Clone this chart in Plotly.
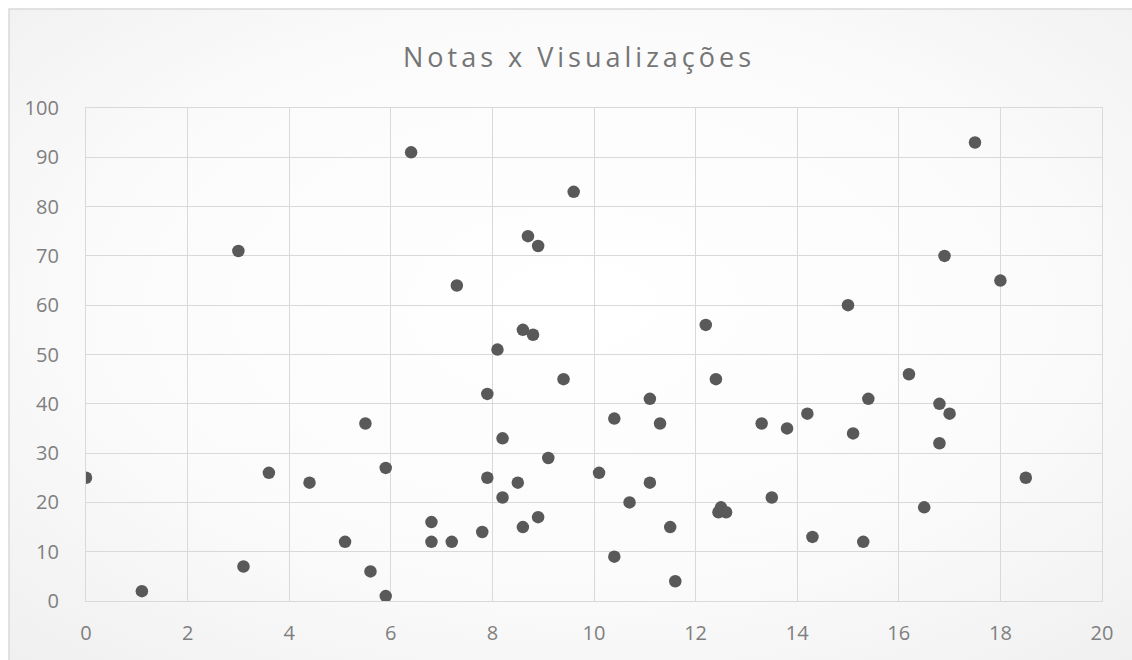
import base64
import plotly.graph_objects as go

# Notas (x) e visualizações (y)
notas = [0, 1.1, 3, 3.1, 3.6, 4.4, 5.1, 5.5, 5.6, 5.9, 5.9, 6.4, 6.8, 6.8, 7.2, 7.3,
         7.8, 7.9, 7.9, 8.1, 8.2, 8.2, 8.5, 8.6, 8.6, 8.7, 8.8, 8.9, 8.9, 9.1, 9.4,
         9.6, 10.1, 10.4, 10.4, 10.7, 11.1, 11.1, 11.3, 11.5, 11.6, 12.2, 12.4,
         12.5, 12.45, 12.6, 13.3, 13.5, 13.8, 14.2, 14.3, 15, 15.1, 15.3, 15.4,
         16.2, 16.5, 16.8, 16.8, 16.9, 17, 17.5, 18, 18.5]
visualizacoes = [25, 2, 71, 7, 26, 24, 12, 36, 6, 27, 1, 91, 16, 12, 12, 64,
                 14, 42, 25, 51, 33, 21, 24, 55, 15, 74, 54, 72, 17, 29, 45,
                 83, 26, 37, 9, 20, 41, 24, 36, 15, 4, 56, 45,
                 19, 18, 18, 36, 21, 35, 38, 13, 60, 34, 12, 41,
                 46, 19, 40, 32, 70, 38, 93, 65, 25]

x_ticks = list(range(0, 21, 2))
y_ticks = list(range(0, 101, 10))

W, H = 1132, 660
ML, MR, MT, MB = 86, 30, 108, 59
pw, ph = W - ML - MR, H - MT - MB


def px_to_paper_x(px):
    return (px - ML) / pw


def px_to_paper_y(py):
    return (H - MB - py) / ph


# soft radial background for the chart area
svg = (
    '<svg xmlns="http://www.w3.org/2000/svg" width="1200" height="700" viewBox="0 0 1200 700">'
    '<defs><radialGradient id="g" cx="50%" cy="45%" r="75%">'
    '<stop offset="0%" stop-color="#ffffff"/>'
    '<stop offset="55%" stop-color="#fbfbfb"/>'
    '<stop offset="100%" stop-color="#efefef"/>'
    '</radialGradient></defs>'
    '<rect width="1200" height="700" fill="url(#g)"/></svg>'
)
bg_uri = "data:image/svg+xml;base64," + base64.b64encode(svg.encode()).decode()

fig = go.Figure(
    go.Scatter(
        x=notas,
        y=visualizacoes,
        mode="markers",
        marker=dict(size=12.5, color="#595959", line=dict(width=0)),
        showlegend=False,
        hoverinfo="x+y",
    )
)

x0, y0 = px_to_paper_x(9), px_to_paper_y(9)
x1, y1 = px_to_paper_x(W + 10), px_to_paper_y(H + 10)

fig.add_layout_image(
    dict(
        source=bg_uri,
        xref="paper", yref="paper",
        x=x0, y=y0,
        sizex=x1 - x0, sizey=y0 - y1,
        xanchor="left", yanchor="top",
        sizing="stretch",
        layer="below",
    )
)

fig.add_shape(
    type="rect", xref="paper", yref="paper",
    x0=x0, y0=y1, x1=x1, y1=y0,
    line=dict(color="#d9d9d9", width=1.5),
    fillcolor="rgba(0,0,0,0)",
    layer="below",
)

fig.update_layout(
    width=W,
    height=H,
    margin=dict(l=ML, r=MR, t=MT, b=MB),
    paper_bgcolor="white",
    plot_bgcolor="rgba(0,0,0,0)",
    font=dict(family="Open Sans, Noto Sans, sans-serif", color="#7f7f7f", size=15),
    title=dict(
        text="Notas x Visualizações",
        x=(577 + 2) / W,
        xanchor="center",
        y=1 - 58 / H,
        yanchor="middle",
        font=dict(size=27, color="#757575", family="Open Sans, Noto Sans, sans-serif"),
    ),
    xaxis=dict(
        range=[0, 20],
        tickvals=x_ticks,
        showgrid=True,
        gridcolor="#d9d9d9",
        gridwidth=1.3,
        zeroline=False,
        showline=True,
        linecolor="#d9d9d9",
        linewidth=1.3,
        mirror=True,
        ticks="",
        ticklabelstandoff=14,
        tickfont=dict(size=20, color="#7f7f7f"),
    ),
    yaxis=dict(
        range=[0, 100],
        tickvals=y_ticks,
        showgrid=True,
        gridcolor="#d9d9d9",
        gridwidth=1.3,
        zeroline=False,
        showline=True,
        linecolor="#d9d9d9",
        linewidth=1.3,
        mirror=True,
        ticks="",
        ticklabelstandoff=22,
        tickfont=dict(size=20, color="#7f7f7f"),
    ),
)

# wider letter spacing on the title, re-applied after every redraw
spacing_js = """
var gd = document.getElementById('{plot_id}');
function spaceTitle() {
  var t = gd.querySelectorAll('.gtitle');
  t.forEach(function (el) { el.style.letterSpacing = '4px'; });
}
spaceTitle();
gd.on('plotly_afterplot', spaceTitle);
"""

fig.write_html("out.html", post_script=spacing_js)
